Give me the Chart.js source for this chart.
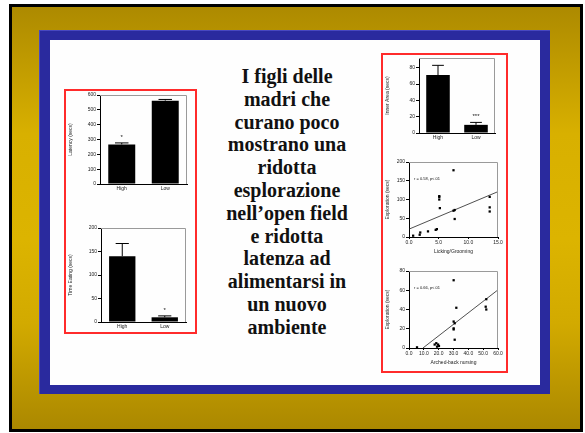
<!DOCTYPE html>
<html>
<head>
<meta charset="utf-8">
<script src="https://cdn.jsdelivr.net/npm/chart.js@4.4.1/dist/chart.umd.min.js"></script>
<style>
  html, body { margin: 0; padding: 0; background: #fff; }
  body { width: 585px; height: 433px; position: relative; overflow: hidden; }
  .abs { position: absolute; }
  #outer { left: 9px; top: 4px; width: 568px; height: 422px; border: 3px solid #000;
    background: linear-gradient(to bottom, #ad8a00 0%, #d8b000 30%, #dcb400 55%, #d2aa00 75%, #ab8800 100%); }
  #blue { left: 39px; top: 30px; width: 511px; height: 364px; background: #2a2a9e;
    box-shadow: inset 1px 1px 0 #4848c0; }
  #white { left: 50px; top: 40px; width: 490px; height: 345px; background: #fefefe; }
  .red { border: 2px solid #ff2b2b; box-sizing: border-box; }
  #boxL { left: 64px; top: 89px; width: 133px; height: 245px; }
  #boxR { left: 381px; top: 53px; width: 127px; height: 320px; }
  #txt { left: 202px; top: 65px; width: 170px; text-align: center;
    font-family: 'Liberation Serif', Tinos, 'DejaVu Serif', serif; font-weight: bold; font-size: 20px;
    line-height: 22.8px; color: #111; }
  canvas { position: absolute; }
</style>
</head>
<body>
<div id="outer" class="abs"></div>
<div id="blue" class="abs"></div>
<div id="white" class="abs"></div>
<div id="boxL" class="abs red"></div>
<div id="boxR" class="abs red"></div>
<div id="txt" class="abs">I figli delle<br>madri che<br>curano poco<br>mostrano una<br>ridotta<br>esplorazione<br>nell’open field<br>e ridotta<br>latenza ad<br>alimentarsi in<br>un nuovo<br>ambiente</div>

<canvas id="c-latency" width="122" height="108" style="left:68px;top:90px"></canvas>
<canvas id="c-eating" width="121" height="114" style="left:68px;top:222px"></canvas>
<canvas id="c-inner" width="113" height="93" style="left:385px;top:54px"></canvas>
<canvas id="c-lg" width="121" height="101" style="left:385px;top:158px"></canvas>
<canvas id="c-abn" width="121" height="104" style="left:385px;top:266px"></canvas>

<script>
// --- data ---
const groups = ['High', 'Low'];

const latencyVals = [267, 562];
const latencyErr = [10, 8];
const latencyStars = ['*', ''];

const eatingVals = [140, 10];
const eatingErr = [27, 3];
const eatingStars = ['', '*'];

const innerVals = [71, 10];
const innerErr = [12, 3];
const innerStars = ['', '***'];

// licking/grooming vs exploration
const lgX = [0.7, 1.8, 1.9, 3.2, 4.5, 4.7, 5.1, 5.1, 5.1, 5.2, 7.5, 7.5, 7.7, 7.7, 13.6, 13.6, 13.6];
const lgY = [3.5, 6, 12, 15, 19, 21, 100, 107, 109, 77, 178, 70, 72, 48, 107, 79, 68];
const lgFitX = [0, 15];
const lgFitY = [21, 121];

// arched-back nursing vs exploration
const abnX = [5.4, 17.3, 18.4, 19.6, 20.2, 18.9, 30.1, 31.9, 30.1, 30.8, 30.1, 30.1, 30.8, 52.1, 51.7, 52.1];
const abnY = [0.7, 3.6, 5, 3.6, 2.1, 1.4, 70.4, 41.8, 27.5, 25.7, 20.4, 19.3, 8.6, 50.7, 42.9, 40];
const abnFitX = [9.4, 59.3];
const abnFitY = [0, 59.6];

Chart.defaults.font.family = '"Liberation Sans", Arial, sans-serif';
Chart.defaults.font.size = 5;
Chart.defaults.color = '#222';
Chart.defaults.animation = false;

// grey frame on top/right of the plot, error bars and significance marks
const extras = {
  id: 'extras',
  afterDatasetsDraw(chart, args, opts) {
    const ctx = chart.ctx;
    const a = chart.chartArea;
    ctx.save();
    ctx.strokeStyle = opts.frameColor || '#9a9a9a';
    ctx.lineWidth = 1;
    ctx.beginPath();
    ctx.moveTo(a.left, a.top + 0.5);
    ctx.lineTo(a.right - 0.5, a.top + 0.5);
    ctx.lineTo(a.right - 0.5, a.bottom);
    ctx.stroke();

    const meta = chart.getDatasetMeta(0);
    const vals = chart.data.datasets[0].data;
    const yScale = chart.scales.y;
    ctx.strokeStyle = '#000';
    ctx.fillStyle = '#111';
    ctx.textAlign = 'center';
    ctx.font = '6px "Liberation Sans", Arial';
    (opts.err || []).forEach((e, i) => {
      const bar = meta.data[i];
      const yTop = yScale.getPixelForValue(vals[i] + e);
      const cap = bar.width * 0.25;
      ctx.beginPath();
      ctx.moveTo(bar.x, bar.y);
      ctx.lineTo(bar.x, yTop);
      ctx.moveTo(bar.x - cap, yTop);
      ctx.lineTo(bar.x + cap, yTop);
      ctx.stroke();
      const s = (opts.stars || [])[i];
      if (s) ctx.fillText(s, bar.x, yTop - 4);
    });
    if (opts.note) {
      ctx.textAlign = 'left';
      ctx.font = '4px "Liberation Sans", Arial';
      ctx.fillText(opts.note, a.left + 5, a.top + 18);
    }
    ctx.restore();
  }
};

function yAxis(max, step, title, width) {
  return {
    min: 0, max,
    ticks: { stepSize: step, padding: 1 },
    afterBuildTicks: s => { s.ticks = s.ticks.filter(t => t.value % step === 0); },
    grid: { drawOnChartArea: false, tickLength: 3, color: '#000' },
    border: { color: '#000' },
    title: { display: true, text: title, padding: 0 },
    afterFit: s => { s.width = width; },
  };
}

function renderBar(id, vals, err, stars, max, step, title, yw, xh, padTop) {
  new Chart(document.getElementById(id), {
    type: 'bar',
    data: {
      labels: groups,
      datasets: [{ data: vals, backgroundColor: '#000', barPercentage: 0.62, categoryPercentage: 1 }],
    },
    options: {
      responsive: false,
      layout: { padding: { top: padTop, right: 3, left: 0, bottom: 0 } },
      plugins: { legend: { display: false }, tooltip: { enabled: false }, extras: { err, stars } },
      scales: {
        x: {
          grid: { display: false, drawTicks: false, tickLength: 0 }, border: { color: '#000' },
          ticks: { padding: 2 },
          afterFit: s => { s.height = xh; },
        },
        y: yAxis(max, step, title, yw),
      },
    },
    plugins: [extras],
  });
}

function renderScatter(id, xs, ys, fitX, fitY, xmax, xstep, ymax, ystep, ytitle, xtitle, note, padTop) {
  new Chart(document.getElementById(id), {
    type: 'scatter',
    data: {
      datasets: [
        {
          data: xs.map((x, i) => ({ x, y: ys[i] })),
          pointStyle: 'rect', pointRadius: 1.6, backgroundColor: '#000', borderColor: '#000', borderWidth: 0,
        },
        {
          data: fitX.map((x, i) => ({ x, y: fitY[i] })),
          showLine: true, pointRadius: 0, borderColor: '#222', borderWidth: 0.8,
        },
      ],
    },
    options: {
      responsive: false,
      layout: { padding: { top: padTop, right: 8, left: 0, bottom: 0 } },
      plugins: { legend: { display: false }, tooltip: { enabled: false }, extras: { note } },
      scales: {
        x: {
          min: 0, max: xmax,
          ticks: { stepSize: xstep, padding: 1, maxRotation: 0, minRotation: 0, autoSkip: false,
                   callback: v => v.toFixed(1) },
          grid: { drawOnChartArea: false, tickLength: 2, color: '#000' },
          border: { color: '#000' },
          title: { display: true, text: xtitle, padding: { top: 5 } },
          afterFit: s => { s.height = 22; },
        },
        y: yAxis(ymax, ystep, ytitle, 24),
      },
    },
    plugins: [extras],
  });
}

renderBar('c-latency', latencyVals, latencyErr, latencyStars, 600, 100, 'Latency (secs)', 32, 14, 5);
renderBar('c-eating', eatingVals, eatingErr, eatingStars, 200, 50, 'Time Eating (secs)', 33, 14, 6);
renderBar('c-inner', innerVals, innerErr, innerStars, 92, 20, 'Inner Area (secs)', 34, 14, 3);
renderScatter('c-lg', lgX, lgY, lgFitX, lgFitY, 15, 5, 200, 50,
  'Exploration (secs)', 'Licking/Grooming', 'r = 0.58, p<.01', 4);
renderScatter('c-abn', abnX, abnY, abnFitX, abnFitY, 60, 10, 80, 20,
  'Exploration (secs)', 'Arched-back nursing', 'r = 0.66, p<.01', 5);
</script>
</body>
</html>
